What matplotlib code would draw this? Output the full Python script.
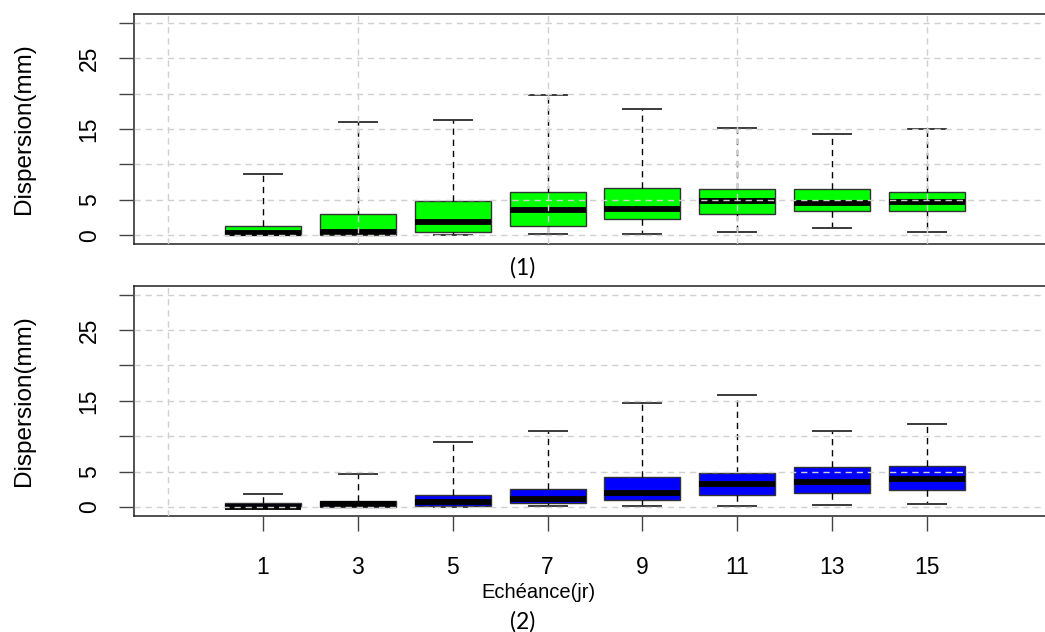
import matplotlib
matplotlib.use("Agg")
import matplotlib.pyplot as plt

# forecast lead times (days), one box per lead
echeance = [1, 3, 5, 7, 9, 11, 13, 15]

# panel (1) - green
q1_1 = [0.05, 0.1, 0.45, 1.4, 2.3, 3.05, 3.4, 3.4]
med_1 = [0.4, 0.55, 1.95, 3.6, 3.8, 4.8, 4.6, 4.75]
q3_1 = [1.3, 3.0, 4.8, 6.15, 6.65, 6.5, 6.5, 6.15]
lo_1 = [0.0, 0.0, 0.0, 0.15, 0.15, 0.5, 1.0, 0.5]
hi_1 = [8.6, 15.95, 16.25, 19.8, 17.8, 15.1, 14.3, 15.0]

# panel (2) - blue
q1_2 = [0.0, 0.05, 0.1, 0.5, 1.05, 1.7, 2.0, 2.35]
med_2 = [0.05, 0.4, 0.65, 1.1, 1.95, 3.2, 3.55, 3.9]
q3_2 = [0.6, 0.8, 1.65, 2.6, 4.25, 4.85, 5.7, 5.85]
lo_2 = [0.0, 0.0, 0.0, 0.1, 0.1, 0.1, 0.25, 0.4]
hi_2 = [1.85, 4.7, 9.2, 10.8, 14.65, 15.8, 10.8, 11.7]

yticks = [0, 5, 10, 15, 20, 25, 30]
ylabs = ['0', '5', '', '15', '', '25', '']

W, H = 1045, 632
fig = plt.figure(figsize=(W/100, H/100), dpi=100)

def px_axes(x0, y0, x1, y1):
    return fig.add_axes([x0/W, 1-y1/H, (x1-x0)/W, (y1-y0)/H])

ax1 = px_axes(134, 14, 1056, 244)
ax2 = px_axes(134, 286, 1056, 515.5)

def draw(ax, q1, med, q3, lo, hi, col):
    stats = []
    for i in range(len(med)):
        stats.append(dict(med=med[i], q1=q1[i], q3=q3[i],
                          whislo=lo[i], whishi=hi[i], fliers=[]))
    pos = list(range(1, len(med)+1))
    ax.bxp(stats, positions=pos, widths=0.8, patch_artist=True,
           showfliers=False,
           boxprops=dict(facecolor=col, edgecolor='#333333', linewidth=1.0),
           medianprops=dict(color='black', linewidth=4.2, solid_capstyle='butt'),
           whiskerprops=dict(color='black', linewidth=1.0, linestyle=(0, (4.5, 3.5))),
           capprops=dict(color='#3a3a3a', linewidth=1.4),
           capwidths=0.4)
    ax.set_xlim(-0.36, 9.36)
    ax.set_ylim(-1.2, 31.2)
    ax.set_yticks(yticks)
    ax.set_yticklabels(ylabs, fontsize=16.5, family='Liberation Sans')
    ax.tick_params(axis='y', length=11, width=1.0, color='#444444', pad=13,
                   labelrotation=90)
    for t in ax.get_yticklabels():
        t.set_va('center')
    ax.set_xticks([0, 2, 4, 6, 8], minor=True)
    ax.tick_params(axis='x', which='minor', length=0)
    ax.set_axisbelow(False)
    gkw = dict(color='#d0d0d0', linewidth=1.0, linestyle=(0, (4.5, 3.5)))
    ax.grid(True, axis='y', which='major', **gkw)
    ax.grid(True, axis='x', which='minor', **gkw)
    for s in ax.spines.values():
        s.set_color('#222222')
        s.set_linewidth(1.1)

draw(ax1, q1_1, med_1, q3_1, lo_1, hi_1, '#00ff00')
draw(ax2, q1_2, med_2, q3_2, lo_2, hi_2, '#0000ff')

ax1.set_xticks([])
ax1.set_xticks([0, 2, 4, 6, 8], minor=True)
ax2.set_xticks(range(1, len(echeance)+1))
ax2.set_xticklabels([str(e) for e in echeance], fontsize=16.5,
                    family='Liberation Sans')
ax2.tick_params(axis='x', which='major', length=11, width=1.0,
                color='#444444', pad=18)

for yc in (129, 401):
    fig.text(24/W, 1-yc/H, 'Dispersion(mm)', rotation=90, ha='center',
             va='center', fontsize=17.5, family='Liberation Sans')

fig.text(538/W, 1-592/H, 'Echéance(jr)', ha='center', va='center',
         fontsize=14.5, family='Liberation Sans')
fig.text(523/W, 1-268/H, '(1)', ha='center', va='center', fontsize=16.5,
         family=['Lato', 'DejaVu Sans'])
fig.text(523/W, 1-622/H, '(2)', ha='center', va='center', fontsize=16.5,
         family=['Lato', 'DejaVu Sans'])

fig.savefig('out.png', dpi=100)
